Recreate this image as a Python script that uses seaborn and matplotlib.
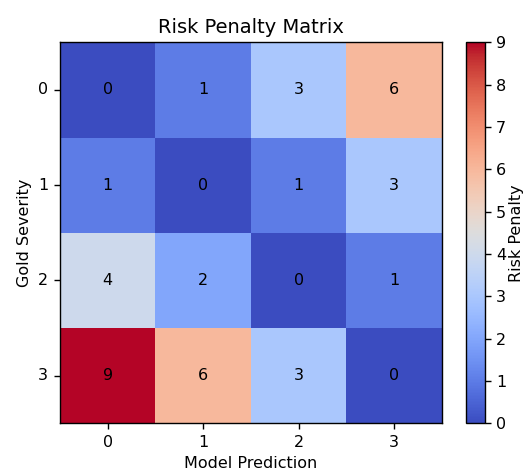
import numpy as np
import matplotlib
matplotlib.use("Agg")
import matplotlib.pyplot as plt
import seaborn as sns

severity = [0, 1, 2, 3]
prediction = [0, 1, 2, 3]
penalty = [
    [0, 1, 3, 6],
    [1, 0, 1, 3],
    [4, 2, 0, 1],
    [9, 6, 3, 0],
]

fig = plt.figure(figsize=(5.26, 4.75), dpi=100)
ax = fig.add_axes([0.114, 0.109, 0.726, 0.802])
cax = fig.add_axes([0.886, 0.109, 0.036, 0.802])

sns.heatmap(np.array(penalty), ax=ax, cbar_ax=cax, cmap="coolwarm", vmin=0, vmax=9,
            annot=True, fmt="d", annot_kws={"color": "black", "fontsize": 11.5},
            xticklabels=prediction, yticklabels=severity,
            cbar_kws={"ticks": range(10)})

for sp in ax.spines.values():
    sp.set_visible(True)
    sp.set_linewidth(1)
    sp.set_color("black")
cbar = ax.collections[0].colorbar
cbar.outline.set_linewidth(1)
cbar.outline.set_visible(True)
cbar.set_label("Risk Penalty", fontsize=11.5, labelpad=2)
cax.tick_params(labelsize=11.5, length=4.5, width=1, pad=3.5)

ax.set_title("Risk Penalty Matrix", fontsize=14, pad=7)
ax.set_xlabel("Model Prediction", fontsize=11.5, labelpad=4)
ax.set_ylabel("Gold Severity", fontsize=11.5, labelpad=4)
ax.tick_params(axis="y", rotation=0)
ax.tick_params(axis="both", labelsize=11.5, length=4.5, width=1, pad=4)

fig.savefig("out.png", dpi=100)
